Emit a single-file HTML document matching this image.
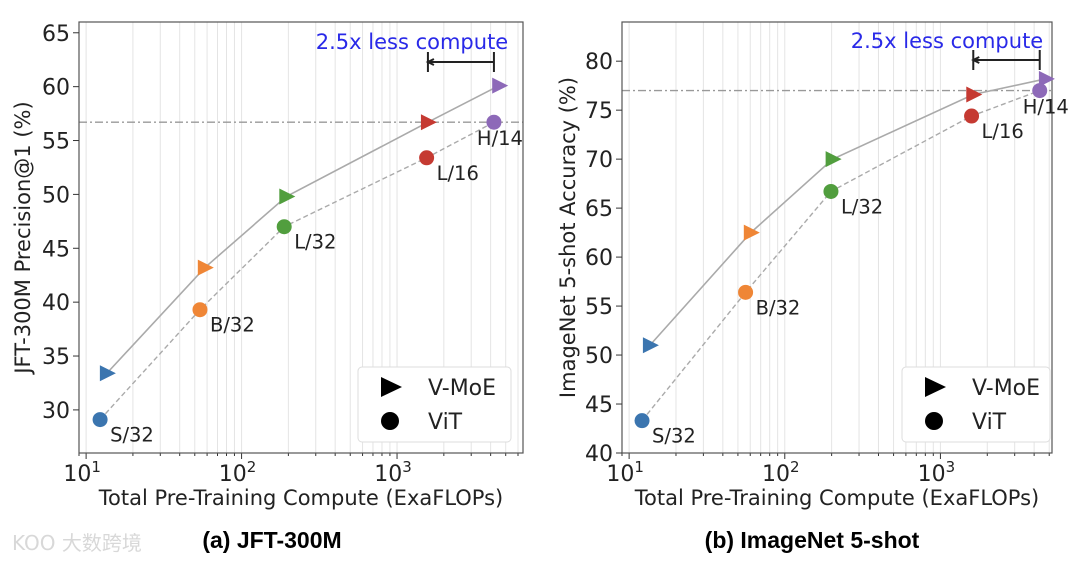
<!DOCTYPE html>
<html><head><meta charset="utf-8">
<style>
body{margin:0;background:#fff;width:1080px;height:562px;overflow:hidden;font-family:"Liberation Sans","DejaVu Sans",sans-serif;}
svg text{font-family:"DejaVu Sans","Liberation Sans",sans-serif;}
</style></head>
<body>
<svg id="fig" width="1080" height="562" viewBox="0 0 1080 562" xmlns="http://www.w3.org/2000/svg">
<text x="12" y="550" font-size="20" fill="#d8d8d8" font-family="Liberation Sans, Noto Sans CJK SC, sans-serif">KOO 大数跨境</text>
<text x="272" y="548" font-size="23" font-weight="bold" text-anchor="middle" style="font-family:'Liberation Sans',sans-serif">(a) JFT-300M</text>
<text x="812" y="548" font-size="23" font-weight="bold" text-anchor="middle" style="font-family:'Liberation Sans',sans-serif">(b) ImageNet 5-shot</text>
</svg>
<script>
const models = ["S/32","B/32","L/32","L/16","H/14"];
const colors = ["#3b75af","#ef8636","#519e3e","#c53a32","#8d69b8"];
const jftMoeX = [13.6,58,194,1580,4540];
const jftMoeY = [33.4,43.2,49.8,56.7,60.1];
const jftVitX = [12.3,54,188,1550,4200];
const jftVitY = [29.1,39.3,47.0,53.4,56.7];
const inMoeX = [13.6,60.5,203,1626,4760];
const inMoeY = [51.0,62.5,70.0,76.6,78.2];
const inVitX = [12.1,56,198,1585,4345];
const inVitY = [43.3,56.4,66.7,74.4,77.0];
const jftYTicks = [30,35,40,45,50,55,60,65];
const inYTicks = [40,45,50,55,60,65,70,75,80];
const xTickExps = [1,2,3];

const NS="http://www.w3.org/2000/svg";
const svg=document.getElementById('fig');
function mk(tag,attrs,parent){const e=document.createElementNS(NS,tag);for(const k in attrs)e.setAttribute(k,attrs[k]);(parent||svg).appendChild(e);return e;}

function chart(o){
  const g=mk('g',{});
  
  
  const L=o.box[0],T=o.box[1],R=o.box[2],B=o.box[3];
  const lx0=Math.log10(o.xlim[0]),lx1=Math.log10(o.xlim[1]);
  const sx=v=>L+(Math.log10(v)-lx0)/(lx1-lx0)*(R-L);
  const sy=v=>B-(v-o.ylim[0])/(o.ylim[1]-o.ylim[0])*(B-T);
  for(let d=0;d<=3;d++){for(let m=1;m<10;m++){const v=m*Math.pow(10,d);if(v<o.xlim[0]||v>o.xlim[1])continue;
    const gl=mk('line',{x1:sx(v),x2:sx(v),y1:T,y2:B,stroke:'#e4e4e4','stroke-width':1},g);
    
    
    const tk=mk('line',{x1:sx(v),x2:sx(v),y1:B,y2:B+(m===1?6:3),stroke:'#333','stroke-width':1},g);
    
    
  }}
  const hl=mk('line',{x1:L,x2:R,y1:sy(o.hline),y2:sy(o.hline),stroke:'#999','stroke-width':1.3,'stroke-dasharray':'8,3,2,3'},g);
  
  
  const fr=mk('rect',{x:L,y:T,width:R-L,height:B-T,fill:'none',stroke:'#555','stroke-width':1.2},g);
  
  
  o.yticks.forEach(t=>{
    const tk=mk('line',{x1:L-6,x2:L,y1:sy(t),y2:sy(t),stroke:'#333'},g);
    
    
    const tx=mk('text',{x:L-9,y:sy(t)+8,'font-size':22,'text-anchor':'end',fill:'#222'},g);
    tx.textContent=t;
    
    
  });
  xTickExps.forEach(e=>{
    const tx=mk('text',{x:sx(Math.pow(10,e))-4,y:B+28,'font-size':22,'text-anchor':'middle',fill:'#222'},g);
    tx.textContent='10';
    const sp=mk('tspan',{dy:-9,'font-size':15},tx);sp.textContent=e;
    
    
  });
  const xl=mk('text',{x:(L+R)/2,y:B+52,'font-size':21,'text-anchor':'middle',fill:'#222'},g);
  xl.textContent='Total Pre-Training Compute (ExaFLOPs)';
  
  
  const yl=mk('text',{x:0,y:0,'font-size':21,'text-anchor':'middle',fill:'#222',transform:`translate(${o.ylx},${(T+B)/2}) rotate(-90)`},g);
  yl.textContent=o.ylabel;
  
  
  const pm=o.mx.map((x,i)=>sx(x)+','+sy(o.my[i])).join(' ');
  const lm=mk('polyline',{points:pm,fill:'none',stroke:'#aaa','stroke-width':1.6},g);
  
  
  const pv=o.vx.map((x,i)=>sx(x)+','+sy(o.vy[i])).join(' ');
  const lv=mk('polyline',{points:pv,fill:'none',stroke:'#aaa','stroke-width':1.4,'stroke-dasharray':'5,3'},g);
  
  
  models.forEach((m,i)=>{
    const x=sx(o.mx[i]),y=sy(o.my[i]);
    const tri=mk('polygon',{points:`${x-7},${y-8} ${x+9},${y} ${x-7},${y+8}`,fill:colors[i]},g);
    
    
    const cx=sx(o.vx[i]),cy=sy(o.vy[i]);
    const c=mk('circle',{cx:cx,cy:cy,r:7.5,fill:colors[i]},g);
    
    
    const lt=mk('text',{x:m==='H/14'?cx-17:cx+10,y:m==='H/14'?cy+23:cy+22,'font-size':19.5,fill:'#222'},g);
    lt.textContent=m;
    
    
  });
  const bx1=sx(o.mx[3]),bx2=sx(o.vx[4]),by=o.by;
  const br=mk('path',{d:`M${bx1},${by-10}V${by+10}M${bx2},${by-10}V${by+10}M${bx1},${by}H${bx2}M${bx1+6},${by-3}L${bx1},${by}L${bx1+6},${by+3}`,stroke:'#222','stroke-width':2,fill:'none'},g);
  
  
  const bt=mk('text',{x:o.tx,y:o.ty,'font-size':21,'text-anchor':'middle',fill:'#2929e8'},g);
  bt.textContent='2.5x less compute';
  
  
  const lg=mk('g',{},g);
  
  
  const lb=o.leg;
  mk('rect',{x:lb[0],y:lb[1],width:lb[2],height:lb[3],rx:4,fill:'#fff',stroke:'#ddd'},lg);
  const tx0=lb[0]+32,ty0=lb[1]+20;
  const lt=mk('polygon',{points:`${tx0-9},${ty0-10} ${tx0+12},${ty0} ${tx0-9},${ty0+10}`,fill:'#000'},lg);
  
  
  const lc=mk('circle',{cx:tx0,cy:ty0+34,r:9,fill:'#000'},lg);
  
  
  const t1=mk('text',{x:lb[0]+70,y:ty0+8,'font-size':22,fill:'#222'},lg);t1.textContent='V-MoE';
  
  
  const t2=mk('text',{x:lb[0]+70,y:ty0+42,'font-size':22,fill:'#222'},lg);t2.textContent='ViT';
  
  
}

chart({name:'chart-jft',box:[79,22,523,453],xlim:[9.0,6460],ylim:[26,66],yticks:jftYTicks,
  mx:jftMoeX,my:jftMoeY,vx:jftVitX,vy:jftVitY,hline:56.7,by:62,tx:412,ty:49,ylx:30,
  ylabel:'JFT-300M Precision@1 (%)',leg:[358,367,153,75]});
chart({name:'chart-imagenet',box:[622,22,1052,453],xlim:[9.0,5210],ylim:[40,84],yticks:inYTicks,
  mx:inMoeX,my:inMoeY,vx:inVitX,vy:inVitY,hline:77.0,by:60,tx:947,ty:48,ylx:575,
  ylabel:'ImageNet 5-shot Accuracy (%)',leg:[902,367,148,75]});
</script>
</body></html>
